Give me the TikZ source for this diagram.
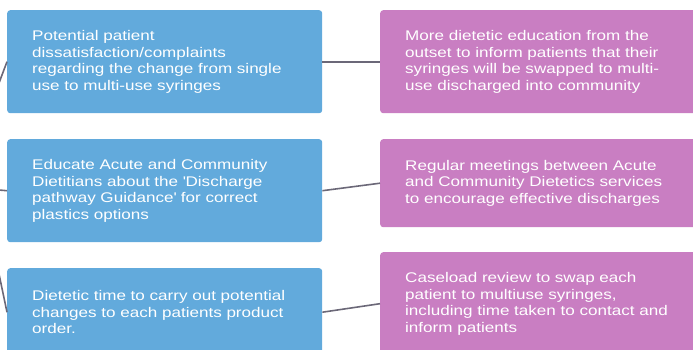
\documentclass[tikz,border=0pt]{standalone}
\usepackage{fontspec}
\setmainfont{Liberation Sans}[FakeStretch=1.22]
\definecolor{boxblue}{HTML}{62AADC}
\definecolor{boxpurple}{HTML}{C97EC2}
\definecolor{linkgray}{HTML}{6B6878}
\tikzset{
  card/.style={rounded corners=3pt, draw=none, text=white, align=left,
    inner xsep=25pt, inner ysep=0pt, anchor=north west,
    font=\fontsize{14}{16.5}\selectfont},
  bluecard/.style={card, fill=boxblue, text width=265pt, minimum width=315pt},
  purplecard/.style={card, fill=boxpurple, text width=270pt, minimum width=320pt},
  tall/.style={minimum height=103pt},
  short/.style={minimum height=88pt},
  link/.style={draw=linkgray, line width=1.6pt}
}
\begin{document}
\begin{tikzpicture}[x=1pt,y=-1pt]
\useasboundingbox (0,0) rectangle (693,349);
\clip (0,0) rectangle (693,349);
\node[bluecard, tall] (B1) at (7,10) {Potential patient\\dissatisfaction/complaints\\regarding the change from single\\use to multi-use syringes};
\node[bluecard, tall] (B2) at (7,139) {Educate Acute and Community\\Dietitians about the \textquotesingle Discharge\\pathway Guidance\textquotesingle\ for correct\\plastics options};
\node[bluecard, short] (B3) at (7,268) {Dietetic time to carry out potential\\changes to each patients product\\order.};
\node[purplecard, tall] (P1) at (380,10) {More dietetic education from the\\outset to inform patients that their\\syringes will be swapped to multi-\\use discharged into community};
\node[purplecard, short] (P2) at (380,139) {Regular meetings between Acute\\and Community Dietetics services\\to encourage effective discharges};
\node[purplecard, tall] (P3) at (380,252) {Caseload review to swap each\\patient to multiuse syringes,\\including time taken to contact and\\inform patients};
\coordinate (L1) at (-1,83);
\coordinate (L2) at (-1,190);
\coordinate (L3) at (-1,274);
\draw[link] (B1.east) -- (P1.west);
\draw[link] (B2.east) -- (P2.west);
\draw[link] (B3.east) -- (P3.west);
\draw[link] (L1) -- (B1.west);
\draw[link] (L2) -- (B2.west);
\draw[link] (L3) -- (B3.west);
\end{tikzpicture}
\end{document}
